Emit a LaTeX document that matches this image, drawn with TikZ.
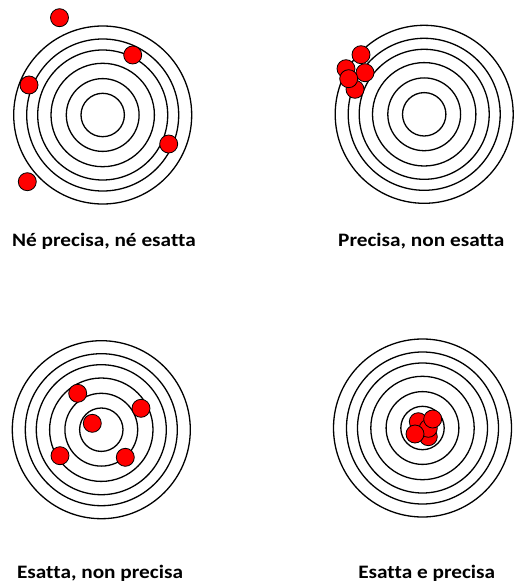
\documentclass[tikz,border=0pt]{standalone}
\usepackage{fontspec}
\usepackage{graphicx}
\setmainfont[Ligatures=NoCommon]{Carlito}
\newcommand{\widetxt}[1]{\scalebox{1.12}[1]{#1}}
\begin{document}
\begin{tikzpicture}[x=1pt,y=-1pt,
  ring/.style={draw=black,line width=1.3pt},
  hit/.style={circle,draw=black,fill=red,line width=0.8pt,minimum size=18pt,inner sep=0pt},
  lbl/.style={font=\fontsize{19}{22}\selectfont\bfseries,anchor=base,inner sep=0pt}]
\useasboundingbox (0,0) rectangle (516,583);
% targets
\foreach \cx/\cy in {102.7/115, 424.2/114.3, 101.3/429.7, 422.5/428}{
  \foreach \r in {21.7,36.4,51.7,65,76,89}{
    \draw[ring] (\cx,\cy) circle[radius=\r];
  }
}
% target 1
\node[hit] (a1) at (59.5,17.7) {};
\node[hit] (a2) at (132.7,55) {};
\node[hit] (a3) at (29,85) {};
\node[hit] (a4) at (168.7,144) {};
\node[hit] (a5) at (27.3,181.7) {};
% target 2
\node[hit] (b1) at (355,89.3) {};
\node[hit] (b2) at (346,68.7) {};
\node[hit] (b3) at (361,54.7) {};
\node[hit] (b4) at (365,72.7) {};
\node[hit] (b5) at (348.7,78.7) {};
% target 3
\node[hit] (c1) at (77.7,393.3) {};
\node[hit] (c2) at (141,408.3) {};
\node[hit] (c3) at (92.3,423.3) {};
\node[hit] (c4) at (60,455.7) {};
\node[hit] (c5) at (125.3,457.3) {};
% target 4
\node[hit] (d1) at (418.3,421.7) {};
\node[hit] (d2) at (428.3,436.7) {};
\node[hit] (d3) at (428.3,428.3) {};
\node[hit] (d4) at (415,434) {};
\node[hit] (d5) at (432.7,419) {};
% labels
\node[lbl] (l1) at (104,246) {\widetxt{Né precisa, né esatta}};
\node[lbl] (l2) at (421.3,246) {\widetxt{Precisa, non esatta}};
\node[lbl] (l3) at (100,578) {\widetxt{Esatta, non precisa}};
\node[lbl] (l4) at (426.7,578) {\widetxt{Esatta e precisa}};
\end{tikzpicture}
\end{document}
